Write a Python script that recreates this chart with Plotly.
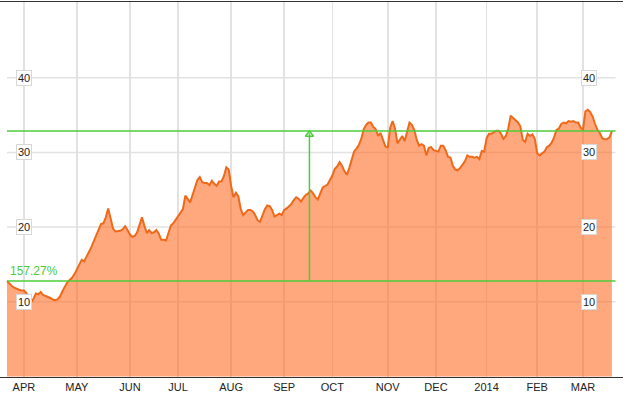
import pandas as pd
import plotly.graph_objects as go

# ---- data ----
start_date = "2013-03-20"
end_date = "2014-03-19"
market_holidays = ["2013-03-29", "2013-05-27", "2013-07-04", "2013-09-02",
                   "2013-11-28", "2013-12-25", "2014-01-01", "2014-01-20",
                   "2014-02-17"]

prices = [
    12.77, 12.4, 12.1, 11.9, 11.7, 11.6, 11.5, 11.5, 11.2, 10.5,
    9.9, 10.4, 11.1, 11.0, 11.3, 10.9, 10.8, 10.7, 10.5, 10.3,
    10.2, 10.3, 10.7, 11.4, 12.1, 12.6, 12.9, 13.2, 13.7, 14.3,
    15.0, 15.6, 15.4, 16.0, 16.6, 17.3, 18.1, 18.8, 19.5, 20.4,
    20.5, 21.3, 22.5, 21.0, 19.8, 19.4, 19.4, 19.5, 19.7, 20.1,
    19.6, 19.0, 18.7, 18.8, 19.3, 20.3, 21.3, 20.2, 19.2, 19.6,
    19.2, 19.3, 19.6, 19.1, 18.3, 18.3, 18.2, 19.2, 20.2, 20.5,
    21.0, 21.5, 21.9, 22.4, 24.2, 23.7, 23.3, 24.3, 25.4, 26.3,
    26.7, 26.0, 25.9, 25.9, 25.6, 26.2, 25.8, 25.5, 26.1, 26.1,
    26.8, 28.0, 27.7, 25.5, 24.0, 24.6, 24.1, 22.4, 21.6, 21.9,
    22.3, 22.3, 22.1, 21.6, 20.9, 20.7, 21.5, 22.4, 22.9, 22.8,
    22.3, 21.4, 21.6, 21.8, 21.6, 22.3, 22.5, 22.8, 23.1, 23.6,
    24.0, 23.8, 23.4, 23.9, 24.3, 24.5, 24.9, 24.5, 24.0, 23.7,
    24.4, 25.3, 25.5, 25.7, 26.3, 26.9, 27.8, 28.1, 28.7, 28.2,
    27.5, 27.0, 27.9, 29.2, 30.1, 30.5, 31.0, 31.8, 33.1, 33.7,
    34.0, 34.0, 33.4, 33.1, 32.2, 32.6, 31.8, 30.8, 30.7, 33.3,
    34.2, 33.2, 31.2, 31.8, 32.2, 31.5, 32.6, 34.0, 33.7, 33.0,
    31.7, 30.9, 31.1, 30.9, 29.6, 30.6, 30.7, 30.3, 30.2, 30.1,
    30.9, 30.9, 30.3, 29.4, 29.3, 28.2, 27.7, 27.6, 27.9, 28.4,
    28.8, 29.6, 29.4, 29.4, 29.3, 29.4, 29.1, 30.2, 30.1, 31.9,
    32.5, 32.5, 32.7, 32.9, 32.9, 32.5, 31.8, 32.2, 33.2, 34.9,
    34.6, 34.3, 34.0, 33.5, 31.7, 31.4, 32.5, 32.2, 32.4, 31.8,
    29.9, 29.6, 29.8, 30.1, 30.7, 30.9, 31.3, 32.0, 33.0, 33.2,
    33.8, 34.0, 33.9, 34.2, 34.1, 34.2, 34.0, 34.0, 33.3, 33.1,
    35.5, 35.7, 35.4, 34.8, 33.8, 33.0, 32.6, 31.9, 31.75, 31.8,
    32.0, 32.853,
]

y_ticks = [10, 20, 30, 40]
month_labels = {1: "2014", 2: "FEB", 3: "MAR", 4: "APR", 5: "MAY", 6: "JUN",
                7: "JUL", 8: "AUG", 9: "SEP", 10: "OCT", 11: "NOV", 12: "DEC"}
change_label = "157.27%"

# ---- derived ----
dates = pd.bdate_range(start_date, end_date, freq="C", holidays=market_holidays)
n = min(len(dates), len(prices))
dates = dates[:n]
prices = prices[:n]
idx = list(range(n))

tickvals, ticktext = [], []
prev_month = dates[0].month
for i, d in enumerate(dates):
    if i > 0 and d.month != prev_month:
        tickvals.append(i)
        ticktext.append(month_labels[d.month])
    prev_month = d.month

first, last = prices[0], prices[-1]
mid = (n - 1) / 2.0

ORANGE = "#EE6A1A"
FILL = "rgba(255,110,40,0.6)"
GREEN = "#4ccc3a"
GRID = "#e2e2e2"
FONT = "Arial, Liberation Sans, sans-serif"

fig = go.Figure()
fig.add_trace(go.Scatter(
    x=idx, y=prices, mode="lines", fill="tozeroy",
    line=dict(color=ORANGE, width=2), fillcolor=FILL,
    hoverinfo="skip", showlegend=False))

# green change indicator
fig.add_trace(go.Scatter(
    x=[mid, mid], y=[first, last - 0.3], mode="lines",
    line=dict(color=GREEN, width=1.5), hoverinfo="skip", showlegend=False))
fig.add_trace(go.Scatter(
    x=[mid], y=[last - 0.45], mode="markers",
    marker=dict(symbol="triangle-up-open", size=7, color=GREEN,
                line=dict(color=GREEN, width=1.5)),
    hoverinfo="skip", showlegend=False))

shapes = []
for t in y_ticks:
    shapes.append(dict(type="line", xref="x", yref="y", x0=0, x1=n + 0.5,
                       y0=t, y1=t, line=dict(color=GRID, width=1.5),
                       layer="below"))
for v in (first, last):
    shapes.append(dict(type="line", xref="x", yref="y", x0=0, x1=n + 0.5,
                       y0=v, y1=v, line=dict(color=GREEN, width=1.5),
                       layer="above"))

annotations = [dict(x=0, y=first, xref="x", yref="y", text=change_label,
                    showarrow=False, xanchor="left", yanchor="bottom",
                    xshift=1, yshift=1,
                    font=dict(family=FONT, size=12, color=GREEN))]
for t in y_ticks:
    for px in (24 / 623, 589 / 623):
        annotations.append(dict(
            x=px, y=t, xref="paper", yref="y", text=str(t), showarrow=False,
            xanchor="center", yanchor="middle", bgcolor="white",
            bordercolor="#d8d8d8", borderwidth=1, borderpad=1,
            font=dict(family=FONT, size=11, color="#222")))

fig.update_layout(
    width=629, height=394,
    margin=dict(l=0, r=6, t=2, b=17),
    paper_bgcolor="white", plot_bgcolor="white",
    shapes=shapes, annotations=annotations,
    hovermode=False,
    xaxis=dict(range=[-2.9, n - 1 + 4.6], tickvals=tickvals, ticktext=ticktext,
               showgrid=True, gridcolor=GRID, gridwidth=1.5, zeroline=False,
               showline=True, mirror=True, linecolor="#333", linewidth=1,
               ticks="", tickfont=dict(family=FONT, size=11, color="#222")),
    yaxis=dict(range=[-0.08, 50.14], showgrid=False, zeroline=False,
               showticklabels=False, showline=False),
)

# remove the browser's default 8px page margin so the figure sits at (0, 0)
fig.write_html("out.html",
               config={"displayModeBar": False, "staticPlot": True},
               post_script="document.body.style.margin='0px';"
                           "document.body.style.overflow='hidden';")
